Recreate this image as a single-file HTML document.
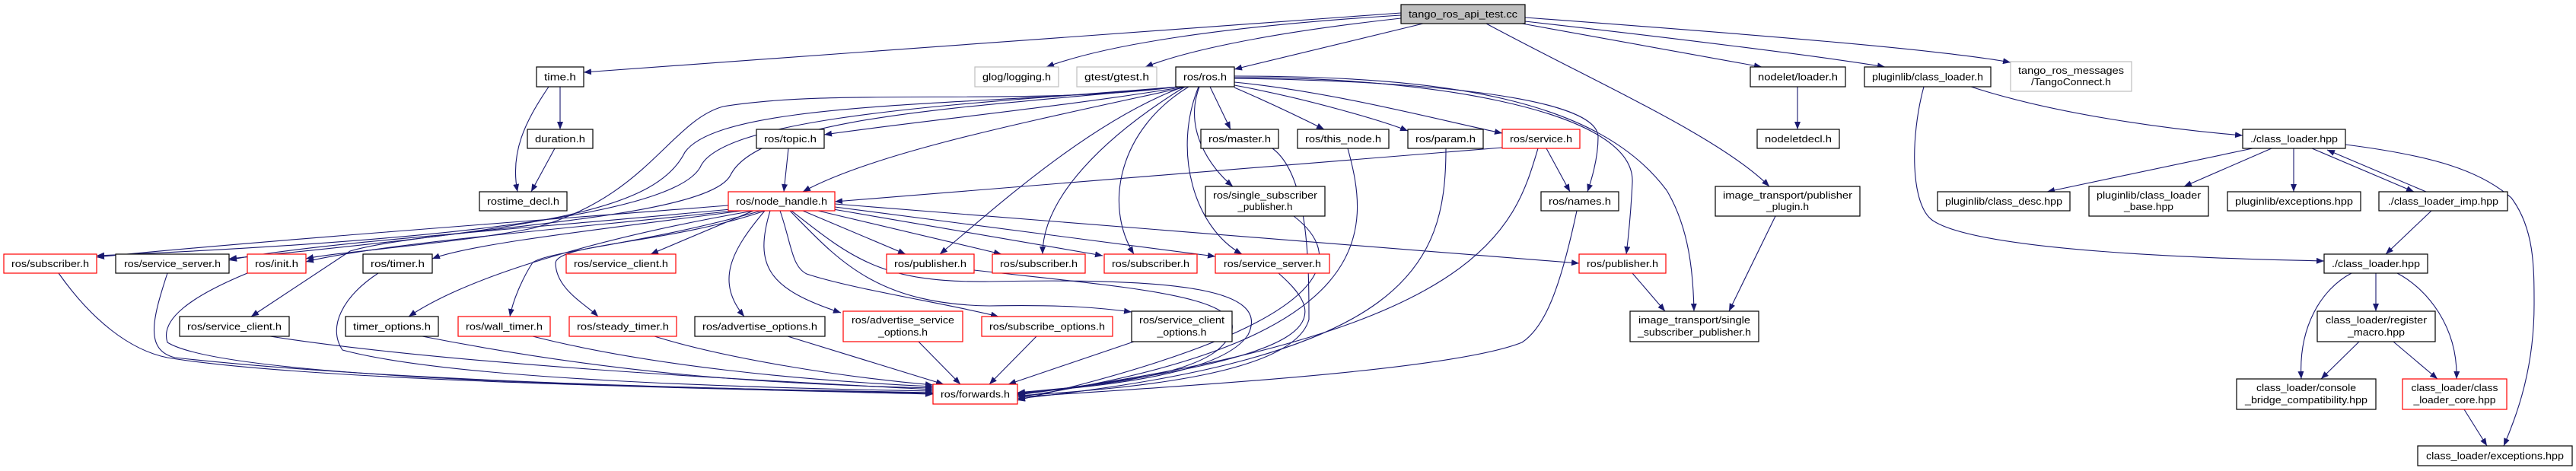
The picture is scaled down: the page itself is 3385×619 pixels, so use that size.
<!DOCTYPE html>
<html><head><meta charset="utf-8"><style>
html,body{margin:0;padding:0;background:#fff;}
svg{display:block;}
text{font-family:"Liberation Sans","DejaVu Sans",sans-serif;font-size:13px;fill:#000;}
.e{fill:none;stroke:#191970;stroke-width:1.1;marker-end:url(#a);}
.n{fill:#fff;stroke:#000;stroke-width:1.2;}
.r{fill:#fff;stroke:#ff0000;stroke-width:1.2;}
.g{fill:#fff;stroke:#bfbfbf;stroke-width:1.2;}
</style></head><body>
<svg width="3385" height="619" viewBox="0 0 3385 619" xmlns="http://www.w3.org/2000/svg">
<defs><marker id="a" markerUnits="userSpaceOnUse" markerWidth="11" markerHeight="9" refX="10" refY="4" orient="auto"><path d="M0,0 L10,4 L0,8 z" fill="#191970"/></marker></defs>
<g>
<path class="e" d="M1841,17 L767,95"/>
<path class="e" d="M1841,20 C1600,35 1450,60 1375,88"/>
<path class="e" d="M1841,24 C1650,45 1550,70 1505,88"/>
<path class="e" d="M1870,31 L1622,91"/>
<path class="e" d="M1953,31 C2100,110 2260,180 2325,245"/>
<path class="e" d="M2000,31 L2315,88"/>
<path class="e" d="M2004,28 C2200,50 2400,75 2477,88"/>
<path class="e" d="M2004,23 C2300,45 2550,65 2642,82"/>
<path class="e" d="M721,114 C690,160 670,200 680,252"/>
<path class="e" d="M736,114 L736,170"/>
<path class="e" d="M729,195 L698,252"/>
<path class="e" d="M1557,114 C1400,140 1200,160 1083,177"/>
<path class="e" d="M1560,114 C1350,160 1150,200 1055,252"/>
<path class="e" d="M1590,114 L1617,170"/>
<path class="e" d="M1576,114 C1555,170 1590,220 1620,245"/>
<path class="e" d="M1557,114 C1450,180 1370,260 1370,334"/>
<path class="e" d="M1562,114 C1470,170 1450,270 1490,334"/>
<path class="e" d="M1555,114 C1430,160 1300,280 1235,334"/>
<path class="e" d="M1575,114 C1540,200 1570,300 1632,334"/>
<path class="e" d="M1622,115 C1680,140 1720,160 1740,170"/>
<path class="e" d="M1622,112 C1720,130 1820,160 1850,172"/>
<path class="e" d="M1622,108 C1750,120 1900,160 1974,175"/>
<path class="e" d="M1622,103 C1800,105 2100,120 2100,180 C2100,210 2090,240 2086,252"/>
<path class="e" d="M1622,102 C1850,100 2150,140 2145,240 C2143,280 2140,310 2137,334"/>
<path class="e" d="M1622,100 C1900,100 2100,130 2190,250 C2220,300 2225,360 2226,409"/>
<path class="e" d="M1548,114 C1350,140 1100,115 950,140 C880,160 850,260 700,300 C600,320 450,330 402,340"/>
<path class="e" d="M1548,114 C1300,140 950,130 900,200 C860,280 700,300 301,340"/>
<path class="e" d="M1548,114 C1300,135 950,150 920,220 C880,290 500,320 127,336"/>
<path class="e" d="M1548,114 C1300,140 1000,150 960,230 C930,290 560,300 460,330 L330,416"/>
<path class="e" d="M957,270 C700,290 300,320 127,338"/>
<path class="e" d="M960,275 C700,300 400,320 301,342"/>
<path class="e" d="M965,277 C750,300 500,320 402,344"/>
<path class="e" d="M975,277 C800,300 620,320 568,340"/>
<path class="e" d="M990,277 L855,334"/>
<path class="e" d="M1000,277 C850,320 720,330 700,345 C690,360 675,390 670,416"/>
<path class="e" d="M1005,277 C880,320 735,320 730,345 C730,380 770,400 786,416"/>
<path class="e" d="M990,277 C800,310 620,360 537,416"/>
<path class="e" d="M1005,277 C960,330 940,370 978,416"/>
<path class="e" d="M1012,277 C990,350 1010,380 1105,411"/>
<path class="e" d="M1025,277 C1040,320 1040,350 1060,360 C1120,380 1250,400 1312,416"/>
<path class="e" d="M1038,277 C1100,340 1150,400 1300,402 C1400,400 1450,405 1487,410"/>
<path class="e" d="M1055,277 L1190,334"/>
<path class="e" d="M1075,277 L1316,334"/>
<path class="e" d="M1095,275 L1449,336"/>
<path class="e" d="M1097,272 L1597,337"/>
<path class="e" d="M1097,268 C1500,300 1900,330 2075,346"/>
<path class="e" d="M1040,277 C1120,340 1160,372 1300,370 C1550,365 1670,380 1640,440 C1600,500 1400,510 1337,517"/>
<path class="e" d="M1974,194 L1097,265"/>
<path class="e" d="M2032,195 L2063,252"/>
<path class="e" d="M2021,195 C1990,300 1950,440 1337,519"/>
<path class="e" d="M1036,195 L1030,252"/>
<path class="e" d="M1672,195 C1720,230 1720,350 1720,420 C1700,490 1500,510 1337,520"/>
<path class="e" d="M1771,195 C1800,300 1820,450 1337,522"/>
<path class="e" d="M1900,195 C1900,350 1850,470 1337,524"/>
<path class="e" d="M2072,277 C2050,380 2030,430 2000,450 C1900,490 1500,510 1337,522"/>
<path class="e" d="M1700,284 C1760,330 1790,420 1337,526"/>
<path class="e" d="M1680,359 C1750,420 1750,470 1337,518"/>
<path class="e" d="M1280,355 C1500,380 1680,390 1600,460 C1550,500 1400,510 1337,516"/>
<path class="e" d="M77,359 C120,420 170,460 220,470 C400,500 900,510 1226,518"/>
<path class="e" d="M220,359 C200,420 190,460 230,470 C500,500 900,510 1226,517"/>
<path class="e" d="M325,359 C250,390 210,420 220,450 C300,500 900,510 1226,516"/>
<path class="e" d="M497,359 C450,390 430,430 450,460 C600,500 1000,510 1226,514"/>
<path class="e" d="M355,442 C600,480 1000,500 1226,512"/>
<path class="e" d="M555,442 C800,490 1000,505 1226,510"/>
<path class="e" d="M700,442 C850,480 1050,500 1226,508"/>
<path class="e" d="M860,442 C950,470 1100,495 1226,506"/>
<path class="e" d="M1035,442 L1240,505"/>
<path class="e" d="M1207,449 L1262,505"/>
<path class="e" d="M1362,442 L1300,505"/>
<path class="e" d="M1490,449 L1325,505"/>
<path class="e" d="M2145,359 L2188,409"/>
<path class="e" d="M2333,284 L2272,409"/>
<path class="e" d="M2362,114 L2362,170"/>
<path class="e" d="M2590,114 C2700,150 2850,170 2947,178"/>
<path class="e" d="M2528,114 C2510,180 2510,270 2540,290 C2600,330 2900,340 3054,343"/>
<path class="e" d="M2960,195 L2690,252"/>
<path class="e" d="M2985,195 L2870,245"/>
<path class="e" d="M3014,195 L3014,252"/>
<path class="e" d="M3038,195 L3172,252"/>
<path class="e" d="M3188,252 L3058,197"/>
<path class="e" d="M3082,190 C3200,205 3260,225 3300,260 C3330,300 3330,350 3330,400 C3330,480 3310,540 3290,586"/>
<path class="e" d="M3195,277 L3135,334"/>
<path class="e" d="M3122,359 L3122,409"/>
<path class="e" d="M3090,359 C3050,380 3020,430 3024,498"/>
<path class="e" d="M3150,359 C3190,380 3230,430 3228,498"/>
<path class="e" d="M3100,449 L3050,498"/>
<path class="e" d="M3145,449 L3203,498"/>
<path class="e" d="M3238,538 L3268,586"/>
</g>
<g>
<rect x="1841" y="6" width="163" height="25" fill="#bfbfbf" stroke="#000" stroke-width="1.2"/><text x="1922.5" y="23" text-anchor="middle" textLength="143" lengthAdjust="spacingAndGlyphs">tango_ros_api_test.cc</text>
<rect class="n" x="705" y="88" width="62" height="26"/><text x="736" y="105.5" text-anchor="middle" textLength="42" lengthAdjust="spacingAndGlyphs">time.h</text>
<rect class="g" x="1281" y="88" width="110" height="26"/><text x="1336" y="105.5" text-anchor="middle" textLength="90" lengthAdjust="spacingAndGlyphs">glog/logging.h</text>
<rect class="g" x="1415" y="88" width="105" height="26"/><text x="1467.5" y="105.5" text-anchor="middle" textLength="85" lengthAdjust="spacingAndGlyphs">gtest/gtest.h</text>
<rect class="n" x="1545" y="88" width="77" height="26"/><text x="1583.5" y="105.5" text-anchor="middle" textLength="57" lengthAdjust="spacingAndGlyphs">ros/ros.h</text>
<rect class="n" x="2300" y="88" width="125" height="26"/><text x="2362.5" y="105.5" text-anchor="middle" textLength="105" lengthAdjust="spacingAndGlyphs">nodelet/loader.h</text>
<rect class="n" x="2450" y="88" width="166" height="26"/><text x="2533" y="105.5" text-anchor="middle" textLength="146" lengthAdjust="spacingAndGlyphs">pluginlib/class_loader.h</text>
<rect class="g" x="2642" y="81" width="159" height="39"/><text x="2721.5" y="97" text-anchor="middle" textLength="139" lengthAdjust="spacingAndGlyphs">tango_ros_messages</text><text x="2721.5" y="112" text-anchor="middle" textLength="105" lengthAdjust="spacingAndGlyphs">/TangoConnect.h</text>
<rect class="n" x="693" y="170" width="86" height="25"/><text x="736" y="187" text-anchor="middle" textLength="66" lengthAdjust="spacingAndGlyphs">duration.h</text>
<rect class="n" x="994" y="170" width="89" height="25"/><text x="1038.5" y="187" text-anchor="middle" textLength="69" lengthAdjust="spacingAndGlyphs">ros/topic.h</text>
<rect class="n" x="1578" y="170" width="102" height="25"/><text x="1629" y="187" text-anchor="middle" textLength="82" lengthAdjust="spacingAndGlyphs">ros/master.h</text>
<rect class="n" x="1705" y="170" width="120" height="25"/><text x="1765" y="187" text-anchor="middle" textLength="100" lengthAdjust="spacingAndGlyphs">ros/this_node.h</text>
<rect class="n" x="1850" y="170" width="99" height="25"/><text x="1899.5" y="187" text-anchor="middle" textLength="79" lengthAdjust="spacingAndGlyphs">ros/param.h</text>
<rect class="r" x="1974" y="170" width="102" height="25"/><text x="2025" y="187" text-anchor="middle" textLength="82" lengthAdjust="spacingAndGlyphs">ros/service.h</text>
<rect class="n" x="2309" y="170" width="108" height="25"/><text x="2363" y="187" text-anchor="middle" textLength="88" lengthAdjust="spacingAndGlyphs">nodeletdecl.h</text>
<rect class="n" x="2947" y="170" width="135" height="25"/><text x="3014.5" y="187" text-anchor="middle" textLength="115" lengthAdjust="spacingAndGlyphs">./class_loader.hpp</text>
<rect class="n" x="630" y="252" width="115" height="25"/><text x="687.5" y="269" text-anchor="middle" textLength="95" lengthAdjust="spacingAndGlyphs">rostime_decl.h</text>
<rect class="r" x="957" y="252" width="140" height="25"/><text x="1027" y="269" text-anchor="middle" textLength="120" lengthAdjust="spacingAndGlyphs">ros/node_handle.h</text>
<rect class="n" x="1584" y="245" width="157" height="39"/><text x="1662.5" y="261" text-anchor="middle" textLength="137" lengthAdjust="spacingAndGlyphs">ros/single_subscriber</text><text x="1662.5" y="276" text-anchor="middle" textLength="72" lengthAdjust="spacingAndGlyphs">_publisher.h</text>
<rect class="n" x="2025" y="252" width="102" height="25"/><text x="2076" y="269" text-anchor="middle" textLength="82" lengthAdjust="spacingAndGlyphs">ros/names.h</text>
<rect class="n" x="2254" y="245" width="190" height="39"/><text x="2349" y="261" text-anchor="middle" textLength="170" lengthAdjust="spacingAndGlyphs">image_transport/publisher</text><text x="2349" y="276" text-anchor="middle" textLength="56" lengthAdjust="spacingAndGlyphs">_plugin.h</text>
<rect class="n" x="2546" y="252" width="174" height="25"/><text x="2633" y="269" text-anchor="middle" textLength="154" lengthAdjust="spacingAndGlyphs">pluginlib/class_desc.hpp</text>
<rect class="n" x="2745" y="245" width="157" height="39"/><text x="2823.5" y="261" text-anchor="middle" textLength="137" lengthAdjust="spacingAndGlyphs">pluginlib/class_loader</text><text x="2823.5" y="276" text-anchor="middle" textLength="65" lengthAdjust="spacingAndGlyphs">_base.hpp</text>
<rect class="n" x="2927" y="252" width="175" height="25"/><text x="3014.5" y="269" text-anchor="middle" textLength="155" lengthAdjust="spacingAndGlyphs">pluginlib/exceptions.hpp</text>
<rect class="n" x="3126" y="252" width="169" height="25"/><text x="3210.5" y="269" text-anchor="middle" textLength="145" lengthAdjust="spacingAndGlyphs">./class_loader_imp.hpp</text>
<rect class="r" x="5" y="334" width="122" height="25"/><text x="66" y="351" text-anchor="middle" textLength="102" lengthAdjust="spacingAndGlyphs">ros/subscriber.h</text>
<rect class="n" x="152" y="334" width="149" height="25"/><text x="226.5" y="351" text-anchor="middle" textLength="127" lengthAdjust="spacingAndGlyphs">ros/service_server.h</text>
<rect class="r" x="325" y="334" width="77" height="25"/><text x="363.5" y="351" text-anchor="middle" textLength="57" lengthAdjust="spacingAndGlyphs">ros/init.h</text>
<rect class="n" x="477" y="334" width="91" height="25"/><text x="522.5" y="351" text-anchor="middle" textLength="71" lengthAdjust="spacingAndGlyphs">ros/timer.h</text>
<rect class="r" x="744" y="334" width="144" height="25"/><text x="816" y="351" text-anchor="middle" textLength="124" lengthAdjust="spacingAndGlyphs">ros/service_client.h</text>
<rect class="r" x="1165" y="334" width="115" height="25"/><text x="1222.5" y="351" text-anchor="middle" textLength="95" lengthAdjust="spacingAndGlyphs">ros/publisher.h</text>
<rect class="r" x="1304" y="334" width="122" height="25"/><text x="1365" y="351" text-anchor="middle" textLength="102" lengthAdjust="spacingAndGlyphs">ros/subscriber.h</text>
<rect class="r" x="1451" y="334" width="122" height="25"/><text x="1512" y="351" text-anchor="middle" textLength="102" lengthAdjust="spacingAndGlyphs">ros/subscriber.h</text>
<rect class="r" x="1597" y="334" width="150" height="25"/><text x="1672" y="351" text-anchor="middle" textLength="128" lengthAdjust="spacingAndGlyphs">ros/service_server.h</text>
<rect class="r" x="2075" y="334" width="114" height="25"/><text x="2132" y="351" text-anchor="middle" textLength="94" lengthAdjust="spacingAndGlyphs">ros/publisher.h</text>
<rect class="n" x="3054" y="334" width="136" height="25"/><text x="3122" y="351" text-anchor="middle" textLength="116" lengthAdjust="spacingAndGlyphs">./class_loader.hpp</text>
<rect class="n" x="236" y="416" width="144" height="26"/><text x="308" y="433.5" text-anchor="middle" textLength="124" lengthAdjust="spacingAndGlyphs">ros/service_client.h</text>
<rect class="n" x="454" y="416" width="122" height="26"/><text x="515" y="433.5" text-anchor="middle" textLength="102" lengthAdjust="spacingAndGlyphs">timer_options.h</text>
<rect class="r" x="602" y="416" width="121" height="26"/><text x="662.5" y="433.5" text-anchor="middle" textLength="101" lengthAdjust="spacingAndGlyphs">ros/wall_timer.h</text>
<rect class="r" x="748" y="416" width="141" height="26"/><text x="818.5" y="433.5" text-anchor="middle" textLength="121" lengthAdjust="spacingAndGlyphs">ros/steady_timer.h</text>
<rect class="n" x="913" y="416" width="171" height="26"/><text x="998.5" y="433.5" text-anchor="middle" textLength="151" lengthAdjust="spacingAndGlyphs">ros/advertise_options.h</text>
<rect class="r" x="1108" y="409" width="157" height="40"/><text x="1186.5" y="425" text-anchor="middle" textLength="135" lengthAdjust="spacingAndGlyphs">ros/advertise_service</text><text x="1186.5" y="441" text-anchor="middle" textLength="65" lengthAdjust="spacingAndGlyphs">_options.h</text>
<rect class="r" x="1290" y="416" width="172" height="26"/><text x="1376" y="433.5" text-anchor="middle" textLength="152" lengthAdjust="spacingAndGlyphs">ros/subscribe_options.h</text>
<rect class="n" x="1487" y="409" width="132" height="40"/><text x="1553" y="425" text-anchor="middle" textLength="112" lengthAdjust="spacingAndGlyphs">ros/service_client</text><text x="1553" y="441" text-anchor="middle" textLength="65" lengthAdjust="spacingAndGlyphs">_options.h</text>
<rect class="n" x="2142" y="409" width="169" height="40"/><text x="2226.5" y="425" text-anchor="middle" textLength="147" lengthAdjust="spacingAndGlyphs">image_transport/single</text><text x="2226.5" y="441" text-anchor="middle" textLength="149" lengthAdjust="spacingAndGlyphs">_subscriber_publisher.h</text>
<rect class="n" x="3045" y="409" width="155" height="40"/><text x="3122.5" y="425" text-anchor="middle" textLength="133" lengthAdjust="spacingAndGlyphs">class_loader/register</text><text x="3122.5" y="441" text-anchor="middle" textLength="75" lengthAdjust="spacingAndGlyphs">_macro.hpp</text>
<rect class="r" x="1226" y="505" width="111" height="26"/><text x="1281.5" y="522.5" text-anchor="middle" textLength="91" lengthAdjust="spacingAndGlyphs">ros/forwards.h</text>
<rect class="n" x="2939" y="498" width="183" height="40"/><text x="3030.5" y="514" text-anchor="middle" textLength="131" lengthAdjust="spacingAndGlyphs">class_loader/console</text><text x="3030.5" y="530" text-anchor="middle" textLength="161" lengthAdjust="spacingAndGlyphs">_bridge_compatibility.hpp</text>
<rect class="r" x="3157" y="498" width="137" height="40"/><text x="3225.5" y="514" text-anchor="middle" textLength="114" lengthAdjust="spacingAndGlyphs">class_loader/class</text><text x="3225.5" y="530" text-anchor="middle" textLength="108" lengthAdjust="spacingAndGlyphs">_loader_core.hpp</text>
<rect class="n" x="3177" y="586" width="203" height="26"/><text x="3278.5" y="603.5" text-anchor="middle" textLength="181" lengthAdjust="spacingAndGlyphs">class_loader/exceptions.hpp</text>
</g>
</svg>
</body></html>
